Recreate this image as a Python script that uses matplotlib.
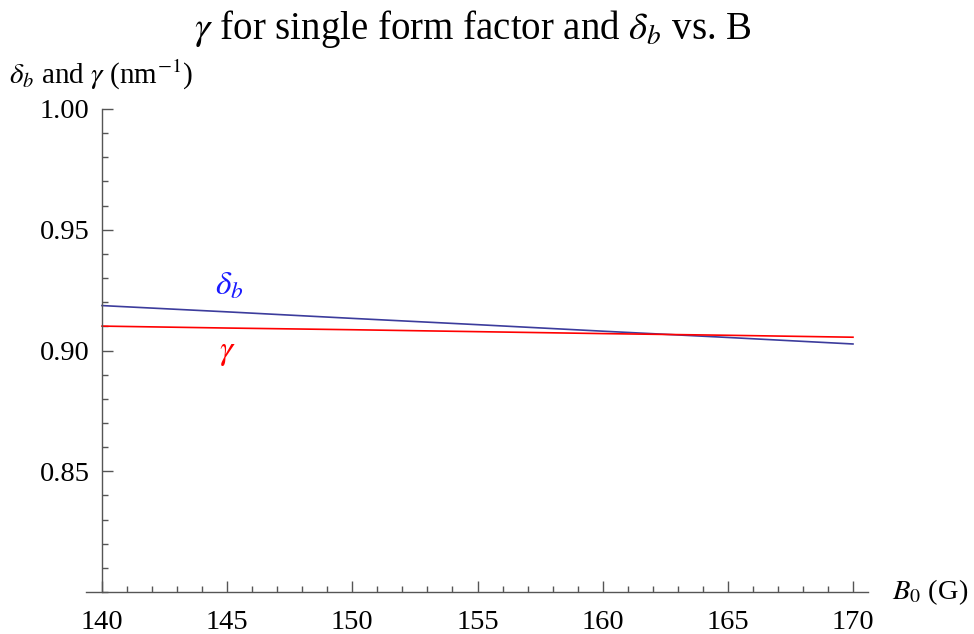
import numpy as np
import matplotlib
matplotlib.use("Agg")
from matplotlib import pyplot as plt
from matplotlib.ticker import MultipleLocator

plt.rcParams['font.family'] = ['Liberation Serif', 'DejaVu Serif']
plt.rcParams['mathtext.fontset'] = 'stix'

# values
B0 = [140, 145, 150, 155, 160, 165, 170]
delta_b = [0.9186, 0.9160, 0.9133, 0.9107, 0.9080, 0.9054, 0.9027]
gamma = [0.9101, 0.9093, 0.9086, 0.9078, 0.9070, 0.9063, 0.9055]

x_ticks = [140, 145, 150, 155, 160, 165, 170]
y_ticks = [0.85, 0.90, 0.95, 1.00]

fig = plt.figure(figsize=(9.74, 6.34), dpi=100)
ax = fig.add_axes([86 / 974, 1 - 592 / 634, (868 - 86) / 974, (592 - 109) / 634])

ax.plot(B0, delta_b, color='#3c3c9c', lw=1.2)
ax.plot(B0, gamma, color='#ff0000', lw=1.2)

ax.set_xlim(139.36, 170.6)
ax.set_ylim(0.80, 1.0)

for side in ['top', 'right']:
    ax.spines[side].set_visible(False)
ax.spines['left'].set_position(('data', 140))
ax.spines['left'].set_bounds(0.80, 1.0)
for side in ['left', 'bottom']:
    ax.spines[side].set_color('#555555')
    ax.spines[side].set_linewidth(1.0)

ax.set_xticks(x_ticks)
ax.set_xticklabels([str(v) for v in x_ticks])
ax.set_yticks(y_ticks)
ax.set_yticklabels([f"{v:.2f}" for v in y_ticks])
ax.xaxis.set_minor_locator(MultipleLocator(1))
ax.yaxis.set_minor_locator(MultipleLocator(0.01))
ax.tick_params(which='major', direction='in', length=8, width=1, color='#555555',
               labelsize=20.5, pad=13)
ax.tick_params(which='minor', direction='in', length=4.5, width=1, color='#555555')
ax.tick_params(axis='y', which='major', pad=9)

ax.text(145.1, 0.9268, r'$\delta_b$', color='#1a1aff', fontsize=24, ha='center', va='center')
ax.text(145.0, 0.8990, r'$\gamma$', color='#ff0000', fontsize=24, ha='center', va='center')

fig.text(0.485, 0.955, r'$\gamma$ for single form factor and $\delta_b$ vs. B',
         ha='center', va='center', fontsize=28)
fig.text(9 / 974, 1 - 75 / 634, r'$\delta_b$ and $\gamma$ (nm$^{-1}$)',
         ha='left', va='center', fontsize=21)
fig.text(892 / 974, 1 - 592 / 634, r'$B_0$ (G)', ha='left', va='center', fontsize=20.5)

fig.savefig('out.png', dpi=100)
